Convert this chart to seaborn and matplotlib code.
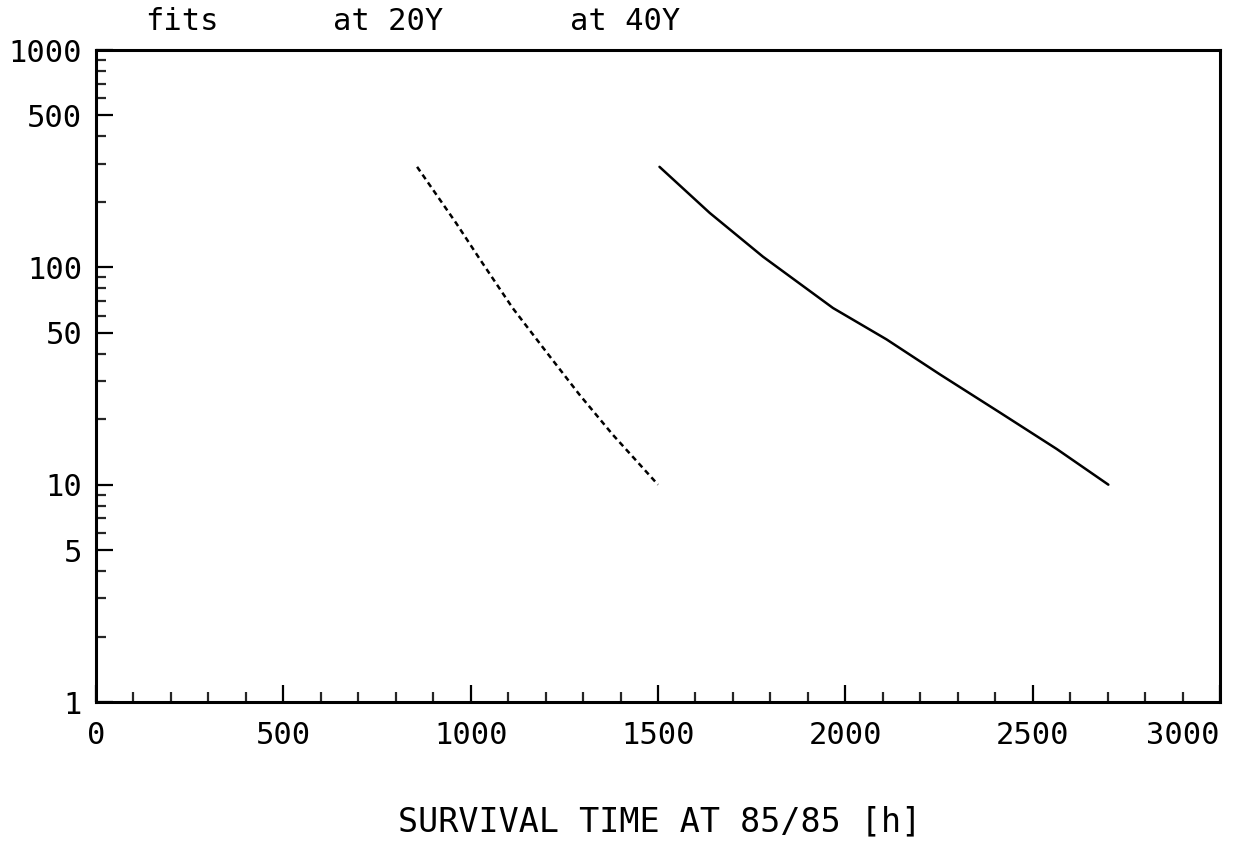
import numpy as np
import pandas as pd
import matplotlib
matplotlib.use("Agg")
import matplotlib.pyplot as plt
import seaborn as sns
from matplotlib.ticker import FixedLocator, NullFormatter

# data
t_20y = [857, 961, 1023, 1112, 1201, 1290, 1379, 1500]
n_20y = [290, 160, 110, 65, 41, 26, 17, 10]
t_40y = [1504, 1638, 1780, 1967, 2110, 2252, 2412, 2564, 2702]
n_40y = [290, 178, 112, 65, 46.6, 32.2, 21.5, 14.6, 10]
x_ticks = [0, 500, 1000, 1500, 2000, 2500, 3000]
y_labeled = [1, 5, 10, 50, 100, 500, 1000]
header_labels = ["fits", "at 20Y", "at 40Y"]
x_label = "SURVIVAL TIME AT 85/85 [h]"

sns.set_style("white")
plt.rcParams['font.family'] = ['DejaVu Sans Mono', 'DejaVu Sans']
plt.rcParams['text.color'] = 'black'
FS = 22

fig = plt.figure(figsize=(12.35, 8.41), dpi=100)
ax = fig.add_axes([96/1235, 1-702/841, (1220-96)/1235, (702-50)/841])

df20 = pd.DataFrame({"t": t_20y, "n": n_20y})
df40 = pd.DataFrame({"t": t_40y, "n": n_40y})
sns.lineplot(data=df20, x="t", y="n", ax=ax, color="black", lw=1.8,
             linestyle=(0, (2.2, 1.6)), estimator=None, sort=False)
sns.lineplot(data=df40, x="t", y="n", ax=ax, color="black", lw=1.8,
             estimator=None, sort=False)

ax.set_yscale("log")
ax.set_xlim(0, 3000)
ax.set_ylim(1, 1000)

for s in ax.spines.values():
    s.set_linewidth(2.2)
    s.set_color("black")

ax.xaxis.set_major_locator(FixedLocator(x_ticks))
ax.xaxis.set_minor_locator(FixedLocator([v for v in range(0, 3001, 100) if v % 500]))
ax.set_xticklabels([str(v) for v in x_ticks])

major_y = [1, 5, 10, 50, 100, 500, 1000]
minor_y = [m * 10**k for k in range(0, 3) for m in (2, 3, 4, 6, 7, 8, 9)]
ax.yaxis.set_major_locator(FixedLocator(major_y))
ax.yaxis.set_minor_locator(FixedLocator(minor_y))
ax.yaxis.set_minor_formatter(NullFormatter())
ax.set_yticklabels([str(v) for v in y_labeled])

ax.tick_params(axis="both", which="major", direction="in", length=12, width=1.6,
               labelsize=FS, colors="black")
ax.tick_params(axis="both", which="minor", direction="in", length=7, width=1.6)
ax.tick_params(axis="x", which="major", pad=14)
ax.tick_params(axis="y", which="major", pad=10)
ax.tick_params(left=True, bottom=True, top=False, right=False)
ax.tick_params(axis="y", which="minor", left=True)
ax.tick_params(axis="x", which="minor", bottom=True)

ax.set_xlabel("")
ax.set_ylabel("")
xl = ax.get_xticklabels()
xl[-1].set_horizontalalignment("right")
xl[-1].set_x(3000)

hx = [145, 333, 570]
for txt, x in zip(header_labels, hx):
    fig.text(x/1235, 1-22/841, txt, ha="left", va="center", fontsize=FS, color="black")

fig.text(660/1235, 1-822/841, x_label, ha="center", va="center", fontsize=24, color="black")

fig.savefig("out.png", dpi=100, facecolor="white")
